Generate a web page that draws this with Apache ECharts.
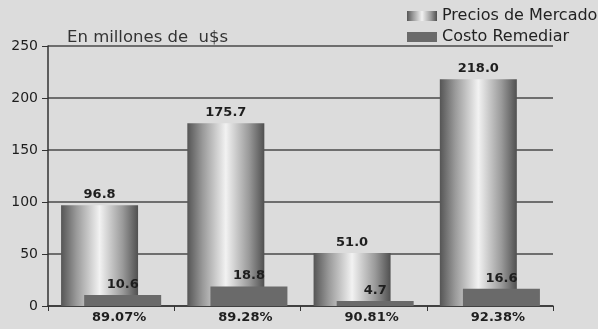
<!DOCTYPE html>
<html>
<head>
<meta charset="utf-8">
<script src="https://cdn.jsdelivr.net/npm/echarts@6/dist/echarts.min.js"></script>
<style>
  html, body { margin: 0; padding: 0; background: #dcdcdc; }
  #chart { width: 598px; height: 329px; }
</style>
</head>
<body>
<div id="chart"></div>
<script>
// porcentajes bajo cada grupo
let categories = ['89.07%', '89.28%', '90.81%', '92.38%']
let preciosMercado = [96.8, 175.7, 51.0, 218.0]
let costoRemediar = [10.6, 18.8, 4.7, 16.6]
let yTicks = [0, 50, 100, 150, 200, 250]

let chart = echarts.init(document.getElementById('chart'))

let cylinder = new echarts.graphic.LinearGradient(0, 0, 1, 0, [
  {offset: 0, color: '#555555'},
  {offset: 0.2, color: '#9a9a9a'},
  {offset: 0.5, color: '#f2f2f2'},
  {offset: 0.8, color: '#9a9a9a'},
  {offset: 1, color: '#505050'}
])

let labelStyle = {
  show: true,
  position: 'top',
  distance: 4,
  fontFamily: 'DejaVu Sans',
  fontSize: 13,
  fontWeight: 'bold',
  color: '#1e1e1e',
  formatter: p => p.value.toFixed(1)
}

let option = {
  backgroundColor: '#dcdcdc',
  animation: false,
  title: {
    text: 'En millones de  u$s',
    left: 62,
    top: 24,
    textStyle: {fontFamily: 'DejaVu Sans', fontSize: 16.5, fontWeight: 'normal', color: '#333'}
  },
  legend: {
    orient: 'vertical',
    left: 402,
    top: 3,
    icon: 'rect',
    itemWidth: 30,
    itemHeight: 10,
    itemGap: 5,
    textStyle: {fontFamily: 'DejaVu Sans', fontSize: 16, color: '#222'},
    data: ['Precios de Mercado', 'Costo Remediar']
  },
  grid: {left: 48, right: 45, top: 46, bottom: 23},
  xAxis: {
    type: 'category',
    data: categories,
    axisLine: {lineStyle: {color: '#333', width: 1.5}},
    axisTick: {show: true, length: 5, lineStyle: {color: '#333'}},
    axisLabel: {fontFamily: 'DejaVu Sans', fontSize: 13, fontWeight: 'bold', color: '#1e1e1e', margin: 5, padding: [0, 0, 0, 16]}
  },
  yAxis: {
    type: 'value',
    min: yTicks[0],
    max: yTicks[yTicks.length - 1],
    interval: 50,
    axisLine: {show: true, lineStyle: {color: '#333', width: 1.5}},
    axisTick: {show: true, length: 6, lineStyle: {color: '#333'}},
    axisLabel: {fontFamily: 'DejaVu Sans', fontSize: 14, color: '#1e1e1e', margin: 10},
    splitLine: {lineStyle: {color: '#4a4a4a', width: 1.5}}
  },
  series: [
    {
      name: 'Precios de Mercado',
      type: 'bar',
      data: preciosMercado,
      barWidth: 77,
      barGap: '-70%',
      itemStyle: {color: cylinder},
      label: labelStyle
    },
    {
      name: 'Costo Remediar',
      type: 'bar',
      data: costoRemediar,
      barWidth: 77,
      itemStyle: {color: '#6a6a6a'},
      label: labelStyle
    }
  ]
}

chart.setOption(option)
</script>
</body>
</html>
